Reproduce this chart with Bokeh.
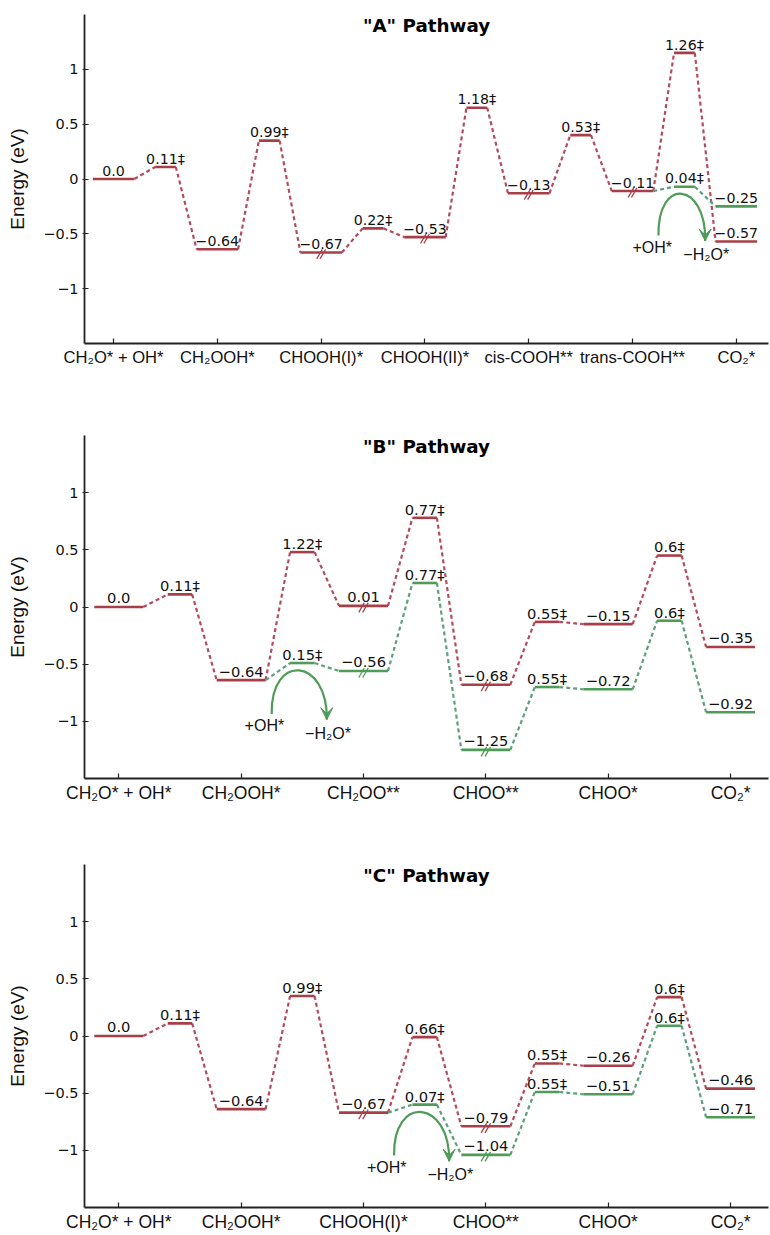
from bokeh.plotting import figure
from bokeh.layouts import column
from bokeh.models import FixedTicker, Label, Arrow, VeeHead, Range1d
from bokeh.core.properties import value
from bokeh.embed import file_html
from bokeh.resources import INLINE

# ---------------- data ----------------
A_title = '"A" Pathway'
A_categories = ["CH₂O* + OH*", "CH₂OOH*", "CHOOH(I)*", "CHOOH(II)*", "cis-COOH**", "trans-COOH**", "CO₂*"]
A_red_levels = [0.0, 0.11, -0.64, 0.35, -0.67, -0.45, -0.53, 0.65, -0.13, 0.40, -0.11, 1.15, -0.57]
A_red_labels = ["0.0", "0.11‡", "−0.64", "0.99‡", "−0.67", "0.22‡", "−0.53", "1.18‡", "−0.13", "0.53‡", "−0.11", "1.26‡", "−0.57"]
A_green_start = 5
A_green_levels = [-0.11, -0.07, -0.25]
A_green_labels = ["", "0.04‡", "−0.25"]
A_red_breaks = [2, 3, 4, 5]
A_green_breaks = []

B_title = '"B" Pathway'
B_categories = ["CH₂O* + OH*", "CH₂OOH*", "CH₂OO**", "CHOO**", "CHOO*", "CO₂*"]
B_red_levels = [0.0, 0.11, -0.64, 0.48, 0.01, 0.78, -0.68, -0.13, -0.15, 0.45, -0.35]
B_red_labels = ["0.0", "0.11‡", "−0.64", "1.22‡", "0.01", "0.77‡", "−0.68", "0.55‡", "−0.15", "0.6‡", "−0.35"]
B_green_start = 1
B_green_levels = [-0.64, -0.49, -0.56, 0.21, -1.25, -0.70, -0.72, -0.12, -0.92]
B_green_labels = ["", "0.15‡", "−0.56", "0.77‡", "−1.25", "0.55‡", "−0.72", "0.6‡", "−0.92"]
B_red_breaks = [2, 3]
B_green_breaks = [2, 3]

C_title = '"C" Pathway'
C_categories = ["CH₂O* + OH*", "CH₂OOH*", "CHOOH(I)*", "CHOO**", "CHOO*", "CO₂*"]
C_red_levels = [0.0, 0.11, -0.64, 0.35, -0.67, -0.01, -0.79, -0.24, -0.26, 0.34, -0.46]
C_red_labels = ["0.0", "0.11‡", "−0.64", "0.99‡", "−0.67", "0.66‡", "−0.79", "0.55‡", "−0.26", "0.6‡", "−0.46"]
C_green_start = 2
C_green_levels = [-0.67, -0.60, -1.04, -0.49, -0.51, 0.09, -0.71]
C_green_labels = ["", "0.07‡", "−1.04", "0.55‡", "−0.51", "0.6‡", "−0.71"]
C_red_breaks = [2, 3]
C_green_breaks = [3]

Y_TICKS = [-1, -0.5, 0, 0.5, 1]
Y_TICK_LABELS = ["−1", "−0.5", "0", "0.5", "1"]

# ---------------- style ----------------
RED = "#a83f48"
RED_LINK = "#b24c5e"
GREEN = "#4f9b58"
GREEN_LINK = "#5c9e7e"
DARK = "#222222"
STATE_HW = 0.2
TS_HW = 0.1


def geometry(start, levels):
    xs = [start + 0.5 * k for k in range(len(levels))]
    hws = [STATE_HW if k % 2 == 0 else TS_HW for k in range(len(levels))]
    return xs, hws


def draw_path(p, start, levels, labels, breaks, color, link_color, fs, skip_first):
    xs, hws = geometry(start, levels)
    x0 = [xs[k] + hws[k] for k in range(len(xs) - 1)]
    y0 = [levels[k] for k in range(len(xs) - 1)]
    x1 = [xs[k + 1] - hws[k + 1] for k in range(len(xs) - 1)]
    y1 = [levels[k + 1] for k in range(len(xs) - 1)]
    p.segment(x0=x0, y0=y0, x1=x1, y1=y1, line_color=link_color, line_width=2.2,
              line_dash="4 3")
    first = 1 if skip_first else 0
    lx0 = [xs[k] - hws[k] for k in range(first, len(xs))]
    lx1 = [xs[k] + hws[k] for k in range(first, len(xs))]
    ly = [levels[k] for k in range(first, len(xs))]
    p.segment(x0=lx0, y0=ly, x1=lx1, y1=ly, line_color=color, line_width=2.6)
    tx = [xs[k] for k in range(first, len(xs))]
    tt = [labels[k] for k in range(first, len(xs))]
    ty = [v + 0.075 for v in ly]
    p.text(x=tx, y=ty, text=tt, text_align="center", text_baseline="alphabetic",
           text_font=value("DejaVu Sans"), text_font_size=f"{fs}px",
           text_color="#111111")
    bx, by = [], []
    for s in breaks:
        k = int(round((s - start) * 2))
        for d in (-0.016, 0.016):
            bx.append(xs[k] + d)
            by.append(levels[k] - 0.015)
    if bx:
        p.scatter(x=bx, y=by, marker="dash", size=11, angle=1.05, line_color=color,
                  line_width=1.3)


def draw_arc(p, start, levels, fs):
    ts_x = start + 0.5
    peak = levels[1] - 0.065
    xa = ts_x - 0.25
    xb = ts_x + 0.2
    ya = peak - 0.38
    yb = peak - 0.43
    h = (peak - 0.5 * (ya + yb)) / 0.75
    p.bezier(x0=[xa], y0=[ya], x1=[xb], y1=[yb], cx0=[xa - 0.01], cy0=[ya + h],
             cx1=[xb + 0.01], cy1=[yb + h], line_color=GREEN, line_width=2.2)
    p.add_layout(Arrow(end=VeeHead(size=12, fill_color=GREEN, line_color=GREEN, line_width=1),
                       x_start=xb, y_start=yb + 0.06, x_end=xb, y_end=yb,
                       line_color=GREEN, line_width=2.2))
    p.text(x=[xa - 0.06], y=[ya - 0.03], text=["+OH*"], text_align="center",
           text_baseline="top", text_font=value("Liberation Sans"),
           text_font_size=f"{fs}px", text_color="#111111")
    p.text(x=[xb + 0.01], y=[yb - 0.045], text=["−H₂O*"], text_align="center",
           text_baseline="top", text_font=value("Liberation Sans"),
           text_font_size=f"{fs}px", text_color="#111111")


def make_panel(title, cats, red_levels, red_labels, green_start, green_levels,
               green_labels, red_breaks, green_breaks, height, top, bottom,
               xfs, efs):
    n = len(cats)
    x_lo, x_hi = -0.28, n - 1 + 0.31
    p = figure(width=770, height=height, output_backend="svg", toolbar_location=None,
               x_range=Range1d(x_lo, x_hi), y_range=Range1d(-1.5, 1.5),
               min_border_left=84, min_border_right=2, min_border_top=top,
               min_border_bottom=bottom)
    p.outline_line_color = None
    p.xgrid.visible = False
    p.ygrid.visible = False
    p.background_fill_color = "white"
    p.border_fill_color = "white"

    p.xaxis.ticker = FixedTicker(ticks=list(range(n)))
    p.xaxis.major_label_overrides = {i: c for i, c in enumerate(cats)}
    p.xaxis.major_label_text_font = "Liberation Sans"
    p.xaxis.major_label_text_font_size = xfs
    p.xaxis.major_label_text_color = "#111111"
    p.xaxis.major_label_standoff = 4
    p.xaxis.axis_line_color = DARK
    p.xaxis.axis_line_width = 1.8
    p.xaxis.major_tick_in = 5
    p.xaxis.major_tick_out = 0
    p.xaxis.major_tick_line_color = DARK
    p.xaxis.major_tick_line_width = 1.2
    p.xaxis.minor_tick_line_color = None

    p.yaxis.ticker = FixedTicker(ticks=Y_TICKS)
    p.yaxis.major_label_overrides = {t: l for t, l in zip(Y_TICKS, Y_TICK_LABELS)}
    p.yaxis.major_label_text_font = "DejaVu Sans"
    p.yaxis.major_label_text_font_size = "14.5px"
    p.yaxis.major_label_text_color = "#111111"
    p.yaxis.major_label_standoff = 4
    p.yaxis.axis_line_color = DARK
    p.yaxis.axis_line_width = 1.8
    p.yaxis.major_tick_in = 4
    p.yaxis.major_tick_out = 2
    p.yaxis.major_tick_line_color = DARK
    p.yaxis.major_tick_line_width = 1.2
    p.yaxis.minor_tick_line_color = None
    p.yaxis.axis_label = "Energy (eV)"
    p.yaxis.axis_label_text_font = "Liberation Sans"
    p.yaxis.axis_label_text_font_style = "normal"
    p.yaxis.axis_label_text_font_size = "19px"
    p.yaxis.axis_label_text_color = "#111111"
    p.yaxis.axis_label_standoff = 12

    draw_path(p, 0, red_levels, red_labels, red_breaks, RED, RED_LINK, efs, False)
    draw_path(p, green_start, green_levels, green_labels, green_breaks, GREEN,
              GREEN_LINK, efs, True)
    draw_arc(p, green_start, green_levels, 16)

    p.add_layout(Label(x=(x_lo + x_hi) / 2, y=1.5, text=title, text_align="center",
                       text_baseline="top", text_font="DejaVu Sans",
                       text_font_style="bold", text_font_size="18.3px",
                       text_color="#000000"))
    return p


pA = make_panel(A_title, A_categories, A_red_levels, A_red_labels, A_green_start,
                A_green_levels, A_green_labels, A_red_breaks, A_green_breaks,
                420, 14, 77, "16.6px", 14.2)
pB = make_panel(B_title, B_categories, B_red_levels, B_red_labels, B_green_start,
                B_green_levels, B_green_labels, B_red_breaks, B_green_breaks,
                430, 15, 72, "17.5px", 14.7)
pC = make_panel(C_title, C_categories, C_red_levels, C_red_labels, C_green_start,
                C_green_levels, C_green_labels, C_red_breaks, C_green_breaks,
                385, 14, 28, "17.5px", 14.7)

layout = column(pA, pB, pC, spacing=0)
open("out.html", "w").write(file_html(layout, INLINE))
